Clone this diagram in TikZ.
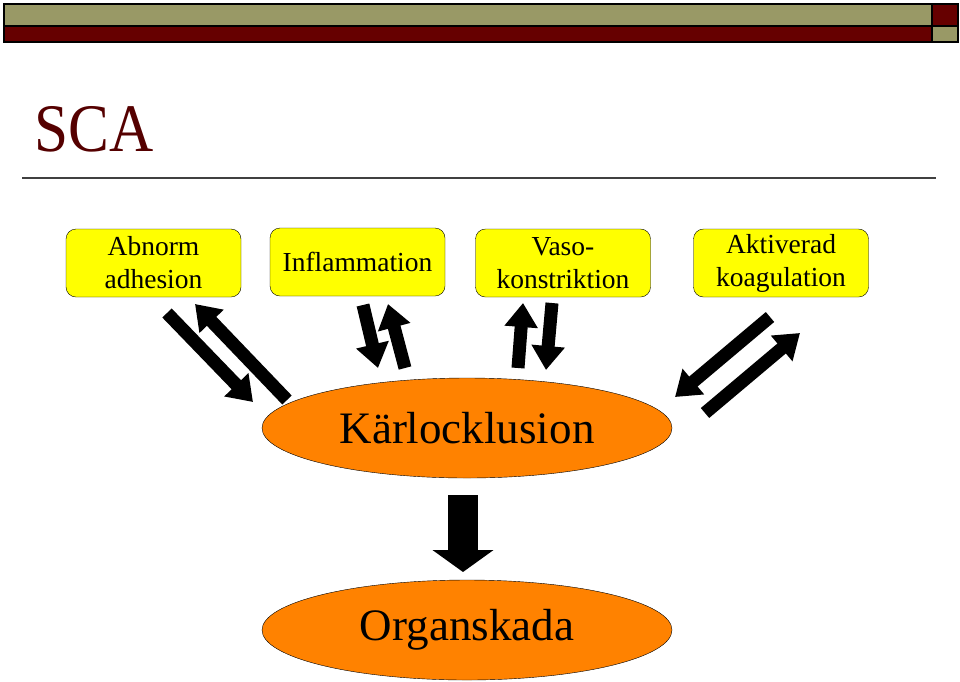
\documentclass[tikz,border=0pt]{standalone}
\usepackage{fontspec}
\setmainfont{Liberation Serif}
\newfontfamily\titlefont[FakeStretch=0.9]{Liberation Serif}
\usetikzlibrary{arrows.meta,shapes.geometric}
\definecolor{barolive}{RGB}{153,153,102}
\definecolor{bardark}{RGB}{102,0,0}
\definecolor{titlered}{RGB}{85,0,0}
\definecolor{boxyellow}{RGB}{255,255,0}
\definecolor{ovalorange}{RGB}{255,130,0}

\begin{document}
\begin{tikzpicture}[x=1pt, y=-1pt,
		faktor/.style={draw=black, fill=boxyellow, rounded corners=10pt, minimum width=175pt, minimum height=68pt, align=center, inner sep=0pt, font=\fontsize{27.5}{33}\selectfont},
		oval/.style={draw=black, fill=ovalorange, ellipse, minimum width=410pt, minimum height=100pt, inner sep=0pt, font=\fontsize{45}{50}\selectfont},
		pil/.style={line width=13pt, -{Triangle[width=32pt, length=24pt]}},
		storpil/.style={line width=30pt, -{Triangle[width=60pt, length=22pt]}}]
		
		\useasboundingbox (0,0) rectangle (960,681);
		
		% Balken oben
		\draw[line width=1.5pt, fill=barolive] (4,4) rectangle (932,26);
		\draw[line width=1.5pt, fill=bardark] (932,4) rectangle (958,26);
		\draw[line width=1.5pt, fill=bardark] (4,26) rectangle (932,42);
		\draw[line width=1.5pt, fill=barolive] (932,26) rectangle (958,42);
		
		% Rubrik
		\node[anchor=base west, inner sep=0pt, text=titlered, font=\titlefont\fontsize{68}{68}\selectfont] (rubrik) at (34,151) {SCA};
		\draw[line width=2pt, black!75] (22,178) -- (936,178);
		
		% --- Faktorer ---
		\node[faktor] (adhesion) at (153.5,263) {Abnorm\\adhesion};
		\node[faktor] (inflam) at (357.5,262) {Inflammation};
		\node[faktor] (vaso) at (563,263) {Vaso-\\konstriktion};
		\node[faktor] (koag) at (781,263) {Aktiverad\\koagulation};
		
		% --- Ocklusion och skada ---
		\node[oval] (ocklusion) at (467,428) {Kärlocklusion};
		\node[oval] (skada) at (467,630) {\raisebox{-8pt}{Organskada}};
		
		% Pilar
		\coordinate (a1s) at (167,313); \coordinate (a1e) at (253,402);
		\coordinate (a2s) at (287,400); \coordinate (a2e) at (195,304);
		\coordinate (b1s) at (363,305); \coordinate (b1e) at (378,368);
		\coordinate (b2s) at (405,368); \coordinate (b2e) at (388,304);
		\coordinate (c1s) at (518,368); \coordinate (c1e) at (523,303);
		\coordinate (c2s) at (552,303); \coordinate (c2e) at (546,370);
		\coordinate (d1s) at (770,317); \coordinate (d1e) at (675,397);
		\coordinate (d2s) at (705,413); \coordinate (d2e) at (800,333);
		\coordinate (ned) at (463,495); \coordinate (nedspets) at (463,572);
		
		\draw[pil] (a1s) -- (a1e);
		\draw[pil] (a2s) -- (a2e);
		\draw[pil] (b1s) -- (b1e);
		\draw[pil] (b2s) -- (b2e);
		\draw[pil] (c1s) -- (c1e);
		\draw[pil] (c2s) -- (c2e);
		\draw[pil] (d1s) -- (d1e);
		\draw[pil] (d2s) -- (d2e);
		\draw[storpil] (ned) -- (nedspets);
		
	\end{tikzpicture}
\end{document}
